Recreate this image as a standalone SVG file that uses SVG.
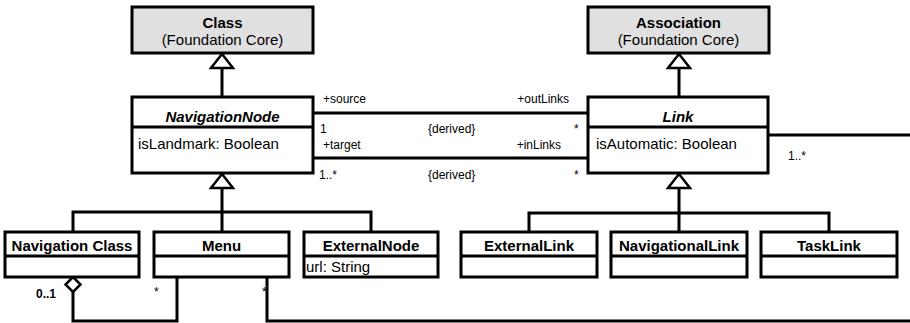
<svg xmlns="http://www.w3.org/2000/svg" width="910" height="323" viewBox="0 0 910 323">
<style>
.box{fill:#fff;stroke:#000;stroke-width:3}
.gray{fill:#e0e0e0;stroke:#000;stroke-width:3}
.ln{fill:none;stroke:#000;stroke-width:3}
.tri{fill:#fff;stroke:#000;stroke-width:2.5;stroke-linejoin:miter}
text{font-family:"Liberation Sans",Arial,Helvetica,sans-serif;fill:#000}
.t{font-size:15px;font-weight:bold;text-anchor:middle}
.ti{font-size:15px;font-weight:bold;font-style:italic;text-anchor:middle}
.sub{font-size:15px;text-anchor:middle}
.attr{font-size:15px}
.lbl{font-size:12px}
.lblb{font-size:12px;font-weight:bold}
</style>
<rect width="910" height="323" fill="#fff"/>
<g id="connectors">
  <line class="ln" x1="222" y1="68" x2="222" y2="97"/>
  <polygon class="tri" points="222,54 211,68 233,68"/>
  <line class="ln" x1="679" y1="68" x2="679" y2="97"/>
  <polygon class="tri" points="679,54 668,68 690,68"/>
  <path class="ln" d="M222,188 V212 M73,232 V212 H371 V232 M222,212 V232"/>
  <polygon class="tri" points="222,174 211,188 233,188"/>
  <path class="ln" d="M679,188 V213 M529,232 V213 H829 V232 M679,213 V232"/>
  <polygon class="tri" points="679,174 668,188 690,188"/>
  <line class="ln" x1="313" y1="113" x2="588" y2="113"/>
  <line class="ln" x1="313" y1="158" x2="588" y2="158"/>
  <line class="ln" x1="768" y1="135" x2="910" y2="135"/>
  <path class="ln" d="M73,292 V321 H177 V277"/>
  <polygon class="tri" points="73,277 80.5,284.5 73,292 65.5,284.5"/>
  <path class="ln" d="M267,277 V321 H910"/>
  <text class="lbl" x="323" y="103">+source</text>
  <text class="lbl" x="569" y="103" text-anchor="end">+outLinks</text>
  <text class="lbl" x="320" y="133">1</text>
  <text class="lbl" x="428" y="133">{derived}</text>
  <text class="lbl" x="574" y="133">*</text>
  <text class="lbl" x="323" y="149">+target</text>
  <text class="lbl" x="561" y="149" text-anchor="end">+inLinks</text>
  <text class="lbl" x="319" y="179">1..*</text>
  <text class="lbl" x="428" y="179">{derived}</text>
  <text class="lbl" x="574" y="179">*</text>
  <text class="lbl" x="788" y="160">1..*</text>
  <text class="lblb" x="36" y="298">0..1</text>
  <text class="lbl" x="154" y="296">*</text>
  <text class="lbl" x="262" y="296">*</text>
</g>
<g id="Class">
  <rect class="gray" x="132" y="7" width="181" height="46"/>
  <text class="t" x="222.5" y="28">Class</text>
  <text class="sub" x="222.5" y="45">(Foundation Core)</text>
</g>
<g id="Association">
  <rect class="gray" x="588" y="7" width="181" height="46"/>
  <text class="t" x="678.5" y="28">Association</text>
  <text class="sub" x="678.5" y="45">(Foundation Core)</text>
</g>
<g id="NavigationNode">
  <rect class="box" x="132" y="97" width="181" height="76"/>
  <line class="ln" x1="132" y1="127" x2="313" y2="127"/>
  <text class="ti" x="222.5" y="122">NavigationNode</text>
  <text class="attr" x="138" y="149">isLandmark: Boolean</text>
</g>
<g id="Link">
  <rect class="box" x="588" y="97" width="180" height="76"/>
  <line class="ln" x1="588" y1="127" x2="768" y2="127"/>
  <text class="ti" x="678" y="122">Link</text>
  <text class="attr" x="596" y="149">isAutomatic: Boolean</text>
</g>
<g id="NavigationClass">
  <rect class="box" x="5" y="232" width="134" height="45"/>
  <line class="ln" x1="5" y1="256" x2="139" y2="256"/>
  <text class="t" x="72" y="251">Navigation Class</text>
</g>
<g id="Menu">
  <rect class="box" x="154" y="232" width="135" height="45"/>
  <line class="ln" x1="154" y1="256" x2="289" y2="256"/>
  <text class="t" x="221.5" y="251">Menu</text>
</g>
<g id="ExternalNode">
  <rect class="box" x="304" y="232" width="134" height="45"/>
  <line class="ln" x1="304" y1="256" x2="438" y2="256"/>
  <text class="t" x="371" y="251">ExternalNode</text>
  <text class="attr" x="306" y="272">url: String</text>
</g>
<g id="ExternalLink">
  <rect class="box" x="461" y="232" width="136" height="45"/>
  <line class="ln" x1="461" y1="256" x2="597" y2="256"/>
  <text class="t" x="529" y="251">ExternalLink</text>
</g>
<g id="NavigationalLink">
  <rect class="box" x="611" y="232" width="136" height="45"/>
  <line class="ln" x1="611" y1="256" x2="747" y2="256"/>
  <text class="t" x="679" y="251">NavigationalLink</text>
</g>
<g id="TaskLink">
  <rect class="box" x="761" y="232" width="136" height="45"/>
  <line class="ln" x1="761" y1="256" x2="897" y2="256"/>
  <text class="t" x="829" y="251">TaskLink</text>
</g>
</svg>
